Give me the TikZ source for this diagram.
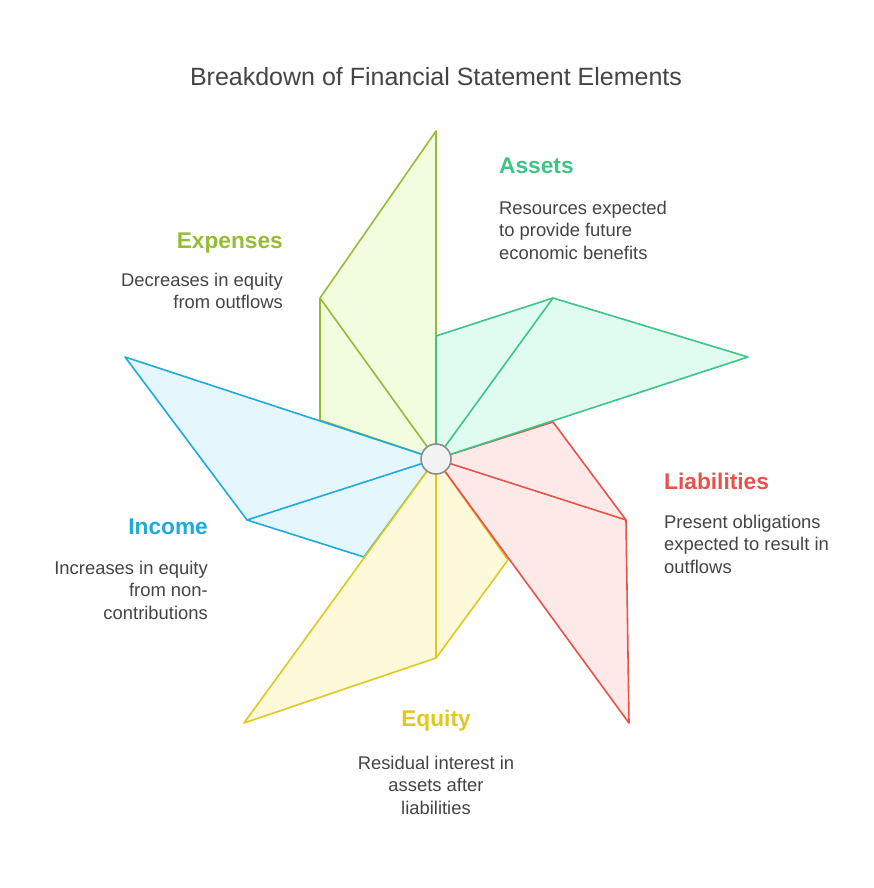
\documentclass[tikz,border=0pt]{standalone}
\usepackage{fontspec}
\setmainfont{Liberation Sans}
\definecolor{cexp}{HTML}{94BC34}\definecolor{fexp}{HTML}{F2FDE0}
\definecolor{cast}{HTML}{3DC585}\definecolor{fast}{HTML}{E0FBEF}
\definecolor{clia}{HTML}{E5534B}\definecolor{flia}{HTML}{FDEAE8}
\definecolor{cequ}{HTML}{DFC81F}\definecolor{fequ}{HTML}{FDF9D9}
\definecolor{cinc}{HTML}{1EAADC}\definecolor{finc}{HTML}{E6F6FD}
\definecolor{txt}{HTML}{444444}
\begin{document}
\begin{tikzpicture}[x=1pt,y=-1pt,
  blade/.style={line width=1.6pt,line join=round},
  head/.style={font=\fontsize{22.7}{26}\selectfont\bfseries,inner sep=0},
  body/.style={font=\fontsize{18.4}{22.3}\selectfont,text=txt,inner sep=0}]
\useasboundingbox (0,0) rectangle (873,888);
\coordinate (c) at (436,459);
% expenses
\coordinate (e1) at (436,131);\coordinate (e2) at (320,298);\coordinate (e3) at (320,420);
\draw[blade,draw=cexp,fill=fexp] (c)--(e1)--(e2)--(e3)--cycle;
\draw[blade,draw=cexp] (e2)--(c);
% income
\coordinate (i1) at (364,557);\coordinate (i2) at (247,520);\coordinate (i3) at (125,357);
\draw[blade,draw=cinc,fill=finc] (c)--(i1)--(i2)--(i3)--cycle;
\draw[blade,draw=cinc] (i2)--(c);
% equity
\coordinate (q1) at (508,560);\coordinate (q2) at (436,658);\coordinate (q3) at (244,723);
\draw[blade,draw=cequ,fill=fequ] (c)--(q1)--(q2)--(q3)--cycle;
\draw[blade,draw=cequ] (q2)--(c);
% liabilities
\coordinate (l1) at (553,422);\coordinate (l2) at (626,520);\coordinate (l3) at (629,723);
\draw[blade,draw=clia,fill=flia] (c)--(l1)--(l2)--(l3)--cycle;
\draw[blade,draw=clia] (l2)--(c);
% assets
\coordinate (a1) at (436,336);\coordinate (a2) at (553,298);\coordinate (a3) at (748,357);
\draw[blade,draw=cast,fill=fast] (c)--(a1)--(a2)--(a3)--cycle;
\draw[blade,draw=cast] (a2)--(c);
\node[circle,minimum size=30pt,inner sep=0,fill=black!5,draw=black!45,line width=1.6pt] (hub) at (c) {};
% texts
\node[font=\fontsize{25}{30}\selectfont,text=txt] (title) at (436,77) {Breakdown of Financial Statement Elements};
\node[head,text=cast,anchor=west] (ah) at (499,166) {Assets};
\node[body,anchor=north west,align=left] (ab) at (499,201) {Resources expected\\to provide future\\economic benefits};
\node[head,text=cexp,anchor=east] (eh) at (283,243) {Expenses};
\node[body,anchor=north east,align=right] (eb) at (283,273) {Decreases in equity\\from outflows};
\node[head,text=clia,anchor=west] (lh) at (664,481) {Liabilities};
\node[body,anchor=north west,align=left] (lb) at (664,515) {Present obligations\\expected to result in\\outflows};
\node[head,text=cinc,anchor=east] (ih) at (208,527) {Income};
\node[body,anchor=north east,align=right] (ib) at (208,561) {Increases in equity\\from non-\\contributions};
\node[head,text=cequ] (qh) at (436,721) {Equity};
\node[body,anchor=north,align=center] (qb) at (436,756) {Residual interest in\\assets after\\liabilities};
\end{tikzpicture}
\end{document}
